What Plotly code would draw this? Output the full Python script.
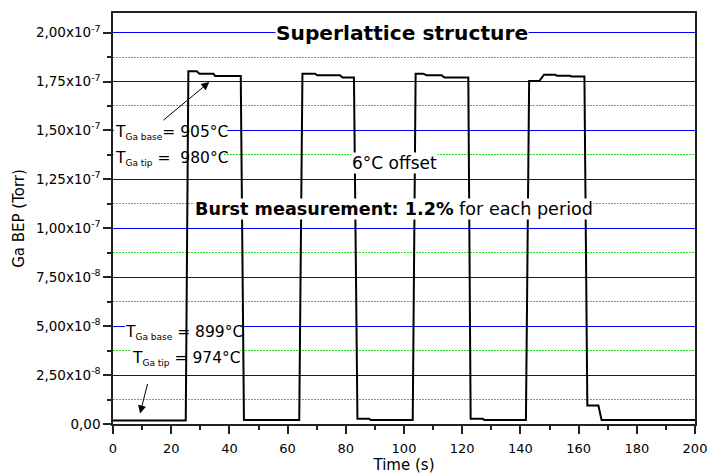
import plotly.graph_objects as go

# ---------------- data ----------------
time_s = [0, 25.0, 25.9, 28.8, 29.7, 34.5, 35.1, 43.9, 45.0,
          64.0, 65.1, 69.4, 70.2, 78.0, 78.9, 82.8, 84.0, 88.0, 88.6,
          103.0, 104.0, 106.5, 107.8, 112.9, 113.9, 122.1, 122.9, 127.0, 127.6,
          141.9, 143.0, 146.5, 148.1, 151.9, 152.5, 157.0, 157.5, 162.0, 163.0,
          166.8, 167.9, 200]
ga_bep = [1.8e-9, 1.8e-9, 1.802e-7, 1.802e-7, 1.790e-7, 1.790e-7, 1.778e-7, 1.778e-7, 2.1e-9,
          2.1e-9, 1.790e-7, 1.790e-7, 1.782e-7, 1.782e-7, 1.770e-7, 1.770e-7, 2.7e-9, 2.7e-9, 2.1e-9,
          2.1e-9, 1.790e-7, 1.790e-7, 1.782e-7, 1.782e-7, 1.770e-7, 1.770e-7, 2.7e-9, 2.7e-9, 2.1e-9,
          2.1e-9, 1.752e-7, 1.752e-7, 1.785e-7, 1.785e-7, 1.780e-7, 1.780e-7, 1.776e-7, 1.776e-7, 9.5e-9,
          9.5e-9, 2.1e-9, 2.1e-9]

x_ticks = [0, 20, 40, 60, 80, 100, 120, 140, 160, 180, 200]
x_minor = [10, 30, 50, 70, 90, 110, 130, 150, 170, 190]
y_ticks = [0, 2.5e-8, 5.0e-8, 7.5e-8, 1.0e-7, 1.25e-7, 1.5e-7, 1.75e-7, 2.0e-7]
y_tick_labels = ["0,00", "2,50x10<sup>-8</sup>", "5,00x10<sup>-8</sup>", "7,50x10<sup>-8</sup>",
                 "1,00x10<sup>-7</sup>", "1,25x10<sup>-7</sup>", "1,50x10<sup>-7</sup>",
                 "1,75x10<sup>-7</sup>", "2,00x10<sup>-7</sup>"]
y_minor = [1.25e-8, 3.75e-8, 6.25e-8, 8.75e-8, 1.125e-7, 1.375e-7, 1.625e-7, 1.875e-7]

FONT = "DejaVu Sans"
AXC = "#222222"

fig = go.Figure()
fig.add_trace(go.Scatter(x=time_s, y=ga_bep, mode="lines",
                         line=dict(color="black", width=2), hoverinfo="skip",
                         showlegend=False))

# the page body has an 8px default margin, so the figure is sized to fit the window
fig.update_layout(
    width=711, height=467,
    margin=dict(l=105, r=24, t=5, b=51),
    paper_bgcolor="white", plot_bgcolor="white",
    font=dict(family=FONT, color="black"),
    xaxis=dict(range=[0, 200], tickmode="array", tickvals=x_ticks,
               ticks="outside", ticklen=8, tickwidth=1.5, tickcolor=AXC,
               showline=True, linecolor=AXC, linewidth=1.5, mirror=True,
               showgrid=False, zeroline=False, automargin=False,
               ticklabelstandoff=4,
               tickfont=dict(family=FONT, size=13, color="black"),
               minor=dict(tickvals=x_minor, ticks="outside", ticklen=4,
                          tickwidth=1.5, tickcolor=AXC, showgrid=False),
               title=dict(text="Time (s)", font=dict(family=FONT, size=15),
                          standoff=4)),
    yaxis=dict(range=[0, 2.1e-7], tickmode="array", tickvals=y_ticks,
               ticktext=y_tick_labels,
               ticks="outside", ticklen=8, tickwidth=1.5, tickcolor=AXC,
               showline=True, linecolor=AXC, linewidth=1.5, mirror=True,
               showgrid=True, gridcolor="#0000ff", gridwidth=1,
               zeroline=False, automargin=False,
               tickfont=dict(family=FONT, size=13.5, color="black"),
               minor=dict(tickvals=y_minor, ticks="outside", ticklen=4,
                          tickwidth=1.5, tickcolor=AXC, showgrid=True,
                          gridcolor="#22dd22", griddash="2px,1px", gridwidth=1),
               title=dict(text="Ga BEP (Torr)", font=dict(family=FONT, size=15),
                          standoff=8)),
)

# white masks behind the temperature labels (hide grid, stay under the trace)
masks = [(0.3, 39.2, 1.48e-7, 1.52e-7), (0.3, 37.8, 1.355e-7, 1.395e-7),
         (4.1, 44.8, 4.8e-8, 5.2e-8), (5.8, 43.6, 3.55e-8, 3.95e-8)]
for x0, x1, y0, y1 in masks:
    fig.add_shape(type="rect", xref="x", yref="y", x0=x0, x1=x1, y0=y0, y1=y1,
                  fillcolor="white", line=dict(width=0), layer="between")

SUBSTYLE = "font-size:9px"
anns = [
    dict(text="<b>Superlattice structure</b>", x=99.3, y=2.0e-7, size=20.2,
         xanchor="center", bg="white"),
    dict(text="T<sub><span style='%s'>Ga base</span></sub>= 905°C" % SUBSTYLE,
         x=0.4, y=1.488e-7, size=15.5, xanchor="left", bg=None),
    dict(text="T<sub><span style='%s'>Ga tip</span></sub> =\u00a0 980°C" % SUBSTYLE,
         x=0.4, y=1.357e-7, size=15.5, xanchor="left", bg=None),
    dict(text="6°C offset", x=96.6, y=1.332e-7, size=17, xanchor="center", bg="white"),
    dict(text="<b>Burst measurement: 1.2%</b> for each period", x=96.6, y=1.099e-7,
         size=17.6, xanchor="center", bg="white"),
    dict(text="T<sub><span style='%s'>Ga base</span></sub> = 899°C" % SUBSTYLE,
         x=3.8, y=4.66e-8, size=15.5, xanchor="left", bg=None),
    dict(text="T<sub><span style='%s'>Ga tip</span></sub> = 974°C" % SUBSTYLE,
         x=6.2, y=3.35e-8, size=15.5, xanchor="left", bg=None),
]
for a in anns:
    fig.add_annotation(text=a["text"], x=a["x"], y=a["y"], xref="x", yref="y",
                       xanchor=a["xanchor"], yanchor="middle", showarrow=False,
                       font=dict(family=FONT, size=a["size"], color="black"),
                       bgcolor=a["bg"] if a["bg"] else "rgba(0,0,0,0)",
                       borderpad=0)

# arrows
arrows = [(33.1, 1.747e-7, 16.8, 1.546e-7), (9.3, 5.4e-9, 12.0, 2.12e-8)]
for hx, hy, tx, ty in arrows:
    fig.add_annotation(x=hx, y=hy, ax=tx, ay=ty, xref="x", yref="y",
                       axref="x", ayref="y", text="", showarrow=True,
                       arrowhead=2, arrowsize=1.6, arrowwidth=1,
                       arrowcolor="black")

fig.write_html("out.html")
